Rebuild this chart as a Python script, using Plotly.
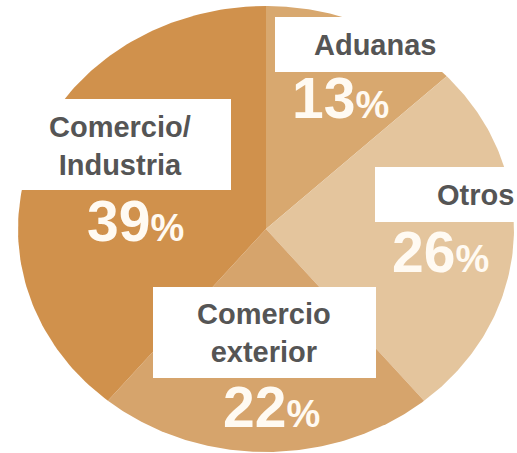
import numpy as np
import plotly.graph_objects as go

# ---- data ----
categories = ["Aduanas", "Otros", "Comercio exterior", "Comercio/Industria"]
label_text = ["Aduanas", "Otros", "Comercio<br>exterior", "Comercio/<br>Industria"]
values = [13, 26, 22, 39]
colors = ["#D8A86F", "#E4C59D", "#D6A46C", "#D0914C"]

W, H = 517, 453
cx, cy = 266, 229
rx, ry = 248, 223

fig = go.Figure()

total = sum(values)
start = 0.0
for cat, v, col in zip(categories, values, colors):
    a0 = start / total * 2 * np.pi
    a1 = (start + v) / total * 2 * np.pi
    t = np.linspace(a0, a1, 120)
    xs = np.concatenate([[cx], cx + rx * np.sin(t), [cx]])
    ys = np.concatenate([[cy], cy - ry * np.cos(t), [cy]])
    fig.add_trace(go.Scatter(
        x=xs, y=ys, mode="lines", fill="toself", fillcolor=col,
        line=dict(width=0, color=col), name=cat, hoverinfo="name",
        showlegend=False))
    start += v

# white label boxes (x0, y0, x1, y1)
boxes = [(275, 17, 447, 72), (375, 167, 530, 222), (153, 287, 376, 378), (18, 99, 231, 190)]
for (x0, y0, x1, y1) in boxes:
    fig.add_shape(type="rect", x0=x0, y0=y0, x1=x1, y1=y1,
                  fillcolor="white", line=dict(width=0), layer="above")

name_pos = [(375, 45), (475, 195), (264, 333), (120, 146)]
pct_pos = [(340, 98), (440, 252), (271, 407), (135, 221)]

for txt, v, (nx, ny), (px, py) in zip(label_text, values, name_pos, pct_pos):
    fig.add_annotation(x=nx, y=ny, text="<b>%s</b>" % txt, showarrow=False,
                       font=dict(family="Liberation Sans, Arial", size=29, color="#555555"),
                       xanchor="center", yanchor="middle")
    fig.add_annotation(x=px, y=py,
                       text="<b>%d<span style='font-size:38px'>%%</span></b>" % v,
                       showarrow=False,
                       font=dict(family="Liberation Sans, Arial", size=57, color="#FFFAF2"),
                       xanchor="center", yanchor="middle")

fig.update_layout(
    width=W, height=H,
    margin=dict(l=0, r=0, t=0, b=0),
    paper_bgcolor="white", plot_bgcolor="white",
    xaxis=dict(range=[0, W], visible=False, fixedrange=True),
    yaxis=dict(range=[H, 0], visible=False, fixedrange=True),
)

fig.write_html(
    "out.html",
    config={"displayModeBar": False},
    post_script="document.body.style.margin='0';document.body.style.overflow='hidden';",
)
